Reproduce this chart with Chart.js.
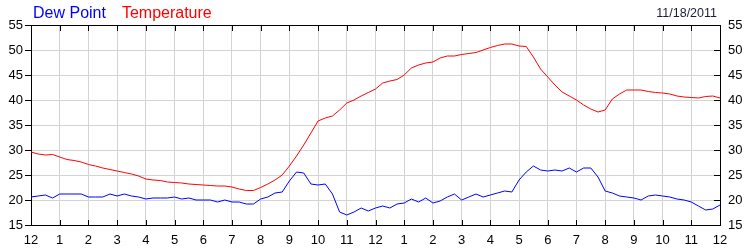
<!DOCTYPE html>
<html>
<head>
<meta charset="utf-8">
<script src="https://cdn.jsdelivr.net/npm/chart.js@4/dist/chart.umd.min.js"></script>
<style>
  html, body { margin: 0; padding: 0; background: #fff; }
  #wrap { width: 750px; height: 250px; position: relative; }
</style>
</head>
<body>
<div id="wrap"><canvas id="chart" width="750" height="250"></canvas></div>
<script>
// Readings every 15 minutes, midnight to midnight
const dewPoint = [
    20.6, 20.8, 21.0, 20.4, 21.2, 21.2, 21.2, 21.2, 20.6, 20.6, 20.6, 21.2,
    20.8, 21.2, 20.8, 20.6, 20.2, 20.4, 20.4, 20.4, 20.6, 20.2, 20.4, 20.0,
    20.0, 20.0, 19.6, 20.0, 19.6, 19.6, 19.2, 19.2, 20.2, 20.6, 21.4, 21.6,
    23.8, 25.6, 25.4, 23.2, 23.0, 23.2, 21.2, 17.6, 17.0, 17.6, 18.4, 17.8,
    18.4, 18.8, 18.4, 19.2, 19.4, 20.2, 19.6, 20.4, 19.4, 19.8, 20.6, 21.2,
    20.0, 20.6, 21.2, 20.6, 21.0, 21.4, 21.8, 21.6, 24.0, 25.6, 26.8, 26.0,
    25.8, 26.0, 25.8, 26.4, 25.6, 26.4, 26.4, 24.6, 21.8, 21.4, 20.8, 20.6,
    20.4, 20.0, 20.8, 21.0, 20.8, 20.6, 20.2, 20.0, 19.6, 18.8, 18.0, 18.2,
    19.0
];

const temperature = [
    29.6, 29.2, 29.0, 29.1, 28.6, 28.1, 27.9, 27.6, 27.1, 26.8, 26.4, 26.1,
    25.8, 25.5, 25.2, 24.8, 24.2, 24.0, 23.9, 23.6, 23.5, 23.4, 23.2, 23.1,
    23.0, 22.9, 22.8, 22.8, 22.6, 22.2, 21.9, 21.9, 22.5, 23.2, 24.0, 25.0,
    26.8, 28.8, 31.0, 33.4, 35.8, 36.4, 36.8, 38.0, 39.4, 40.0, 40.8, 41.5,
    42.2, 43.4, 43.8, 44.1, 45.0, 46.4, 47.0, 47.4, 47.6, 48.4, 48.8, 48.8,
    49.1, 49.3, 49.5, 50.0, 50.5, 50.9, 51.2, 51.2, 50.8, 50.7, 48.6, 46.2,
    44.6, 43.0, 41.6, 40.8, 40.0, 39.0, 38.2, 37.6, 38.0, 40.2, 41.2, 42.0,
    42.0, 42.0, 41.7, 41.5, 41.4, 41.2, 40.8, 40.6, 40.5, 40.4, 40.7, 40.8,
    40.4
];

const hourLabels = ['12', '1', '2', '3', '4', '5', '6', '7', '8', '9', '10', '11',
                    '12', '1', '2', '3', '4', '5', '6', '7', '8', '9', '10', '11', '12'];

const dateLabel = '11/18/2011';

const FONT = "'Liberation Sans', Arial, sans-serif";
const GRID = '#d3d3d3';

// hour of day for each sample
const hours = dewPoint.map((_, i) => i * 0.25);
const toPoints = vals => vals.map((v, i) => ({ x: hours[i], y: v }));

// legend texts across the top + date at right
const headerPlugin = {
    id: 'header',
    afterDraw(chart) {
        const ctx = chart.ctx;
        ctx.save();
        ctx.font = '16px ' + FONT;
        ctx.textBaseline = 'alphabetic';
        ctx.textAlign = 'left';
        let x = 33;
        chart.data.datasets.forEach(ds => {
            ctx.fillStyle = ds.borderColor;
            ctx.fillText(ds.label, x, 18);
            x += ctx.measureText(ds.label).width + 16;
        });
        ctx.font = '12.5px ' + FONT;
        ctx.fillStyle = '#1c1c40';
        ctx.textAlign = 'right';
        ctx.fillText(dateLabel, 717, 17);
        ctx.restore();
    }
};

// top border and the inward tick marks on top / bottom / right
const framePlugin = {
    id: 'frame',
    afterDraw(chart) {
        const { ctx, chartArea: a, scales } = chart;
        ctx.save();
        ctx.strokeStyle = '#000';
        ctx.lineWidth = 1;
        ctx.beginPath();
        ctx.moveTo(a.left, Math.round(a.top) + 0.5);
        ctx.lineTo(a.right, Math.round(a.top) + 0.5);
        scales.x.ticks.forEach(t => {
            const px = Math.round(scales.x.getPixelForValue(t.value)) + 0.5;
            ctx.moveTo(px, a.top);
            ctx.lineTo(px, a.top + 6);
            ctx.moveTo(px, a.bottom);
            ctx.lineTo(px, a.bottom - 5);
        });
        scales.y2.ticks.forEach(t => {
            const py = Math.round(scales.y2.getPixelForValue(t.value)) + 0.5;
            ctx.moveTo(a.right, py);
            ctx.lineTo(a.right - 6, py);
        });
        ctx.stroke();
        ctx.restore();
    }
};

new Chart(document.getElementById('chart'), {
    type: 'line',
    data: {
        datasets: [
            {
                label: 'Dew Point',
                data: toPoints(dewPoint),
                borderColor: '#0000ff',
                borderWidth: 1,
                pointRadius: 0,
                tension: 0
            },
            {
                label: 'Temperature',
                data: toPoints(temperature),
                borderColor: '#ff0000',
                borderWidth: 1,
                pointRadius: 0,
                tension: 0
            }
        ]
    },
    options: {
        responsive: false,
        animation: false,
        layout: { padding: { top: 25, left: 0, right: 0, bottom: 0 } },
        plugins: {
            legend: { display: false },
            title: { display: false },
            tooltip: { enabled: false }
        },
        scales: {
            x: {
                type: 'linear',
                min: 0,
                max: 24,
                afterFit: s => { s.height = 25; },
                grid: { color: GRID, drawTicks: false },
                border: { color: '#000' },
                ticks: {
                    stepSize: 1,
                    autoSkip: false,
                    maxRotation: 0,
                    padding: 8,
                    color: '#000',
                    font: { family: FONT, size: 13 },
                    callback: v => hourLabels[v]
                }
            },
            y: {
                position: 'left',
                min: 15,
                max: 55,
                afterFit: s => { s.width = 31; },
                grid: { color: GRID, tickColor: '#000', tickLength: 6 },
                border: { color: '#000' },
                ticks: {
                    stepSize: 5,
                    padding: 2,
                    color: '#000',
                    font: { family: FONT, size: 13 }
                }
            },
            y2: {
                position: 'right',
                min: 15,
                max: 55,
                afterFit: s => { s.width = 30; },
                grid: { drawOnChartArea: false, drawTicks: false },
                border: { color: '#000' },
                ticks: {
                    stepSize: 5,
                    padding: 8,
                    color: '#000',
                    font: { family: FONT, size: 13 }
                }
            }
        }
    },
    plugins: [headerPlugin, framePlugin]
});
</script>
</body>
</html>
